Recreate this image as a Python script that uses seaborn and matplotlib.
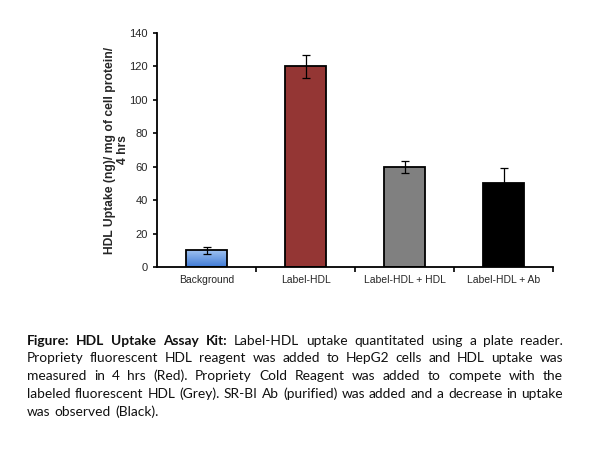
import numpy as np
import pandas as pd
import seaborn as sns
import matplotlib
matplotlib.use('Agg')
import matplotlib.pyplot as plt
from matplotlib.colors import LinearSegmentedColormap

# values
groups = ['Background', 'Label-HDL', 'Label-HDL + HDL', 'Label-HDL + Ab']
uptake = [10, 120, 60, 50]
errors = [2, 7, 3.5, 9]
colours = ['#5b93dc', '#943634', '#808080', '#000000']

caption_lines = [
    [('Figure: HDL Uptake Assay Kit:', 'bold'),
     ('Label-HDL uptake quantitated using a plate reader.', 'normal')],
    [('Propriety fluorescent HDL reagent was added to HepG2 cells and HDL uptake was', 'normal')],
    [('measured in 4 hrs (Red). Propriety Cold Reagent was added to compete with the', 'normal')],
    [('labeled fluorescent HDL (Grey). SR-BI Ab (purified) was added and a decrease in uptake', 'normal')],
    [('was observed (Black).', 'normal')],
]

sns.set_style('white')
plt.rcParams['font.family'] = ['Liberation Sans', 'DejaVu Sans']

df = pd.DataFrame({'group': groups, 'uptake': uptake})

fig = plt.figure(figsize=(6, 4.5), dpi=100)
ax = fig.add_axes([0.2617, 0.4067, 0.66, 0.52])

sns.barplot(data=df, x='group', y='uptake', hue='group', palette=colours,
            width=0.41, edgecolor='black', linewidth=1.3, legend=False,
            errorbar=None, saturation=1, ax=ax)

# blue bar has a light-to-dark gradient fill in the original
blue = ax.patches[0]
bx, by = blue.get_x(), blue.get_y()
bw, bh = blue.get_width(), blue.get_height()
grad = LinearSegmentedColormap.from_list('g', ['#3f7bd6', '#9fc1f0'])
img = ax.imshow(np.linspace(0, 1, 64).reshape(-1, 1), cmap=grad, origin='lower',
                extent=[bx, bx + bw, by, by + bh], aspect='auto', zorder=blue.get_zorder())
img.set_clip_path(blue)
blue.set_facecolor('none')
blue.set_zorder(blue.get_zorder() + 0.1)

ax.errorbar(range(len(groups)), uptake, yerr=errors, fmt='none',
            ecolor='black', elinewidth=0.9, capsize=3, capthick=0.9, zorder=5)

ax.set_xlim(-0.5, 3.5)
ax.set_ylim(0, 140)
ax.set_yticks(range(0, 141, 20))
ax.set_xlabel('')
ax.set_ylabel('HDL Uptake (ng)/ mg of cell protein/\n4 hrs', fontsize=8.7,
              fontweight='bold', labelpad=0)
for s in ['top', 'right']:
    ax.spines[s].set_visible(False)
for s in ['left', 'bottom']:
    ax.spines[s].set_color('black')
    ax.spines[s].set_linewidth(1.3)
ax.set_xticks([0.5, 1.5, 2.5, 3.5], minor=True)
ax.tick_params(axis='x', which='major', length=0, labelsize=7.5, pad=6)
ax.tick_params(axis='x', which='minor', direction='out', length=3.5,
               width=1.2, color='black', bottom=True)
ax.tick_params(axis='y', direction='out', length=3, width=1.2,
               color='black', left=True, labelsize=8)

# justified caption, word by word
fig.canvas.draw()
renderer = fig.canvas.get_renderer()
left, right = 27 / 600, 563 / 600
ys = [341, 358.5, 376, 394, 411.5]
cap_font = ['Lato', 'DejaVu Sans']
for i, line in enumerate(caption_lines):
    words = []
    for chunk, weight in line:
        for w in chunk.split():
            words.append((w, weight))
    texts = [fig.text(0, 1 - ys[i] / 450, w, fontsize=9.9, fontweight=wt,
                      family=cap_font, va='center', ha='left', color='#111111')
             for w, wt in words]
    widths = [t.get_window_extent(renderer).width / fig.bbox.width for t in texts]
    space = 0.0072
    if i < len(caption_lines) - 1 and len(words) > 1:
        space = (right - left - sum(widths)) / (len(words) - 1)
    x = left
    for t, w in zip(texts, widths):
        t.set_x(x)
        x += w + space

fig.savefig('out.png', dpi=100)
